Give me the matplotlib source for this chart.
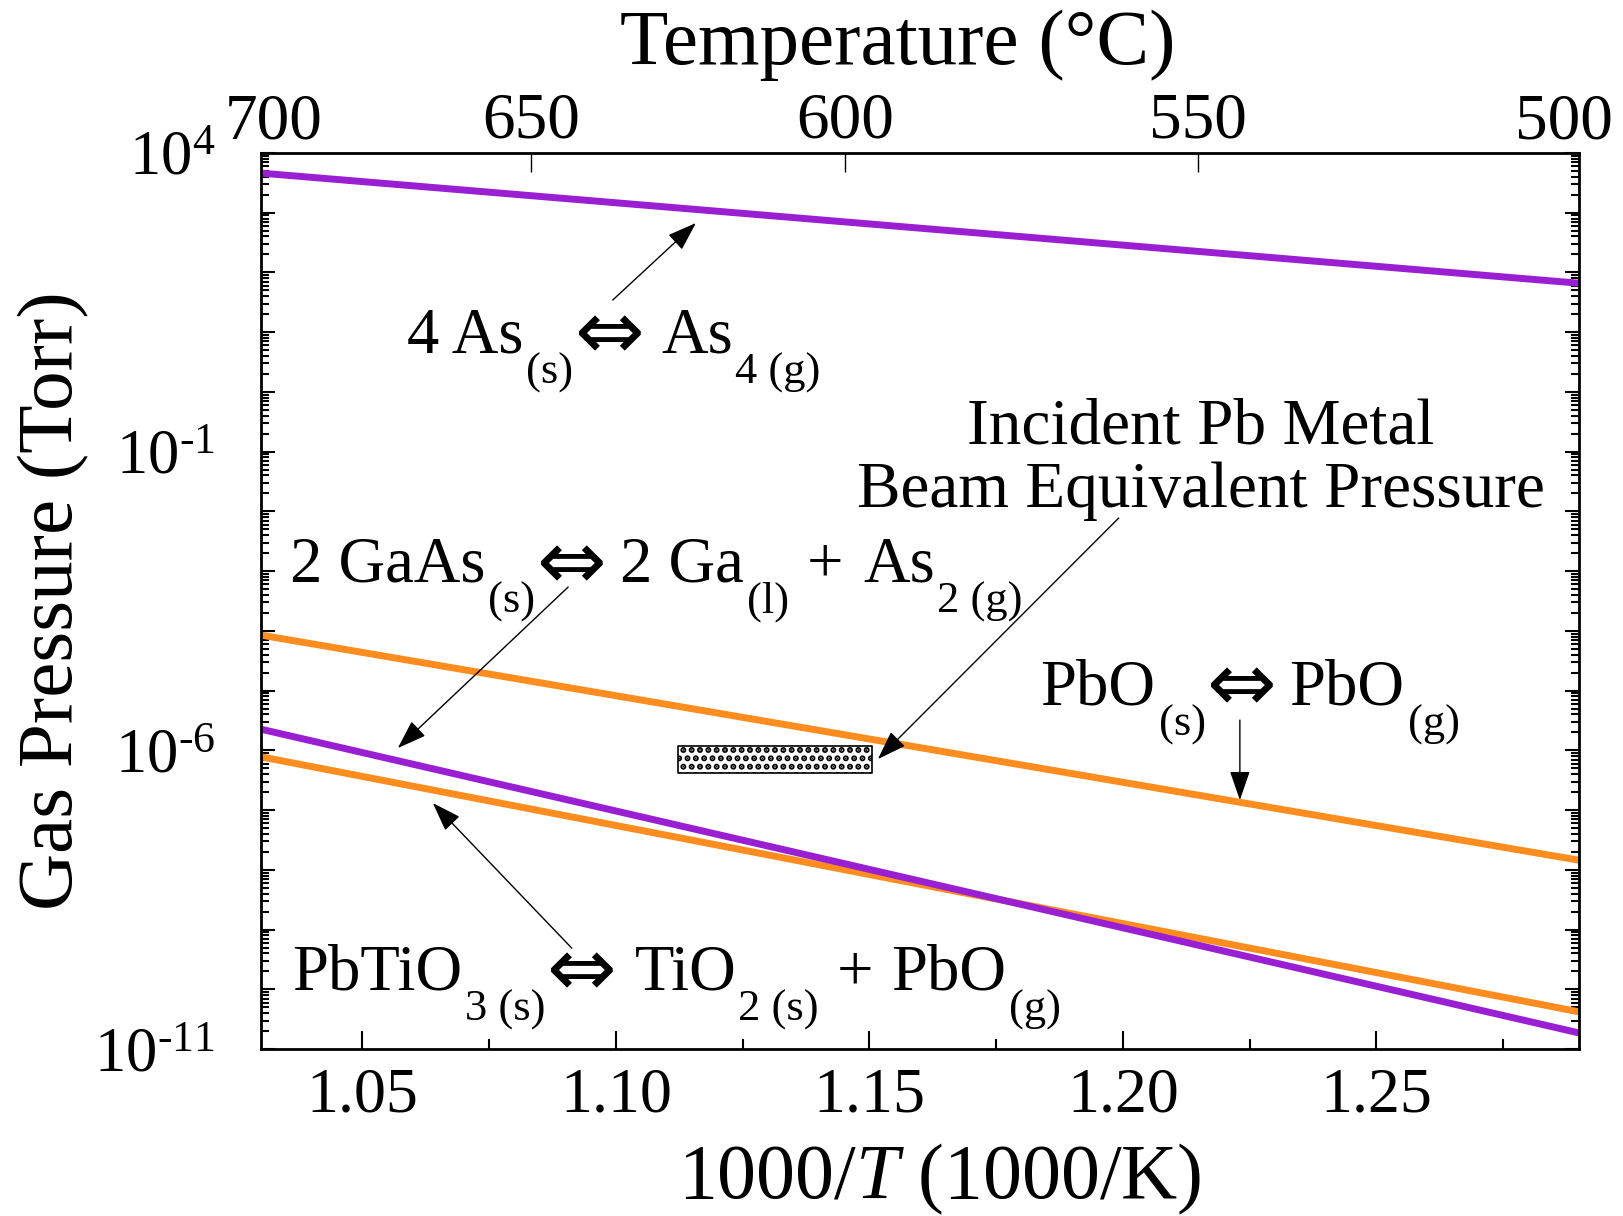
import numpy as np
import matplotlib
matplotlib.use('Agg')
import matplotlib.pyplot as plt
from matplotlib.ticker import LogLocator, FuncFormatter, MultipleLocator, NullFormatter, NullLocator
from matplotlib.transforms import offset_copy

plt.rcParams['font.family'] = ['Liberation Serif', 'DejaVu Serif']
plt.rcParams['mathtext.fontset'] = 'custom'
plt.rcParams['mathtext.rm'] = 'Liberation Serif'
plt.rcParams['mathtext.it'] = 'Liberation Serif:italic'
plt.rcParams['mathtext.fallback'] = 'stix'
plt.rcParams['hatch.linewidth'] = 3

# values (1000/T in 1000/K, pressure in Torr)
inv_T = [1.03, 1.29]
p_as4 = [4.6e3, 66]
p_pbo = [8.5e-5, 1.45e-8]
p_gaas = [2.26e-6, 1.86e-11]
p_pbtio3 = [7.8e-7, 4.2e-11]

# Pb beam equivalent pressure box
bep_x = [1.1122, 1.1505]
bep_p = [4.2e-7, 1.18e-6]

top_ticks = [650, 600, 550]
purple = '#9a1ed2'
orange = '#ff8c1e'

fig = plt.figure(figsize=(16.24, 12.16), dpi=100)
ax = fig.add_axes([0.1607, 0.1373, 0.8116, 0.7369])

ax.plot(inv_T, p_as4, color=purple, lw=5, solid_capstyle='butt')
ax.plot(inv_T, p_pbo, color=orange, lw=5, solid_capstyle='butt')
ax.plot(inv_T, p_pbtio3, color=orange, lw=5, solid_capstyle='butt')
ax.plot(inv_T, p_gaas, color=purple, lw=5, solid_capstyle='butt')

ax.fill_between(bep_x, bep_p[0], bep_p[1], facecolor='white', edgecolor='black',
                hatch='..', lw=1.2)

ax.set_yscale('log')
ax.set_xlim(1.03, 1.29)
ax.set_ylim(1e-11, 1e4)

ax.yaxis.set_major_locator(LogLocator(base=10, numticks=30))
ax.yaxis.set_minor_locator(LogLocator(base=10, subs=np.arange(2, 10), numticks=30))
ax.yaxis.set_minor_formatter(NullFormatter())

def ylab(v, pos):
    e = int(round(np.log10(v)))
    if (e - 4) % 5 == 0:
        return r'$10^{%s}$' % str(e).replace('-', '\u2010')
    return ''

ax.yaxis.set_major_formatter(FuncFormatter(ylab))
ax.xaxis.set_major_locator(MultipleLocator(0.05))
ax.xaxis.set_minor_locator(MultipleLocator(0.025))
ax.xaxis.set_major_formatter(FuncFormatter(lambda v, p: '%.2f' % v))

ax.tick_params(axis='y', which='both', direction='in', left=True, right=True, labelsize=45, pad=33)
ax.tick_params(axis='y', which='major', length=10, width=1.5)
ax.tick_params(axis='y', which='minor', length=5.5, width=1.5)
ax.tick_params(axis='x', which='both', direction='in', top=False, bottom=True, labelsize=46, pad=13)
ax.tick_params(axis='x', which='major', length=13, width=1.5)
ax.tick_params(axis='x', which='minor', length=7, width=1.5)
for s in ax.spines.values():
    s.set_linewidth(2)

ax.set_xlabel('1000/$T$ (1000/K)', fontsize=56)
ax.xaxis.set_label_coords(0.515, -0.103)
ax.set_ylabel('Gas Pressure (Torr)', fontsize=57)
ax.yaxis.set_label_coords(-0.130, 0.5)

# temperature axis on top
secax = ax.secondary_xaxis('top', functions=(lambda x: 1000.0 / x - 273.15,
                                               lambda t: 1000.0 / (t + 273.15)))
secax.set_xticks(top_ticks)
secax.set_xticklabels([str(t) for t in top_ticks])
secax.tick_params(axis='x', direction='in', length=14, width=1, labelsize=47, pad=1)
secax.xaxis.set_minor_locator(NullLocator())
ax.text(0.483, 1.08, 'Temperature (\u00b0C)', transform=ax.transAxes, fontsize=57,
        ha='center', va='bottom')
ax.text(0.01, 1.0167, '700', transform=ax.transAxes, fontsize=47, ha='center', va='baseline')
ax.text(0.9886, 1.0167, '500', transform=ax.transAxes, fontsize=47, ha='center', va='baseline')

# reaction labels, laid out piece by piece: n = normal, s = subscript, a = arrow, number = gap (px)
renderer = fig.canvas.get_renderer()

def chem(x, y, parts):
    dx = 0.0
    for p in parts:
        if isinstance(p, (int, float)):
            dx += p
            continue
        s, kind = p
        if kind == 's':
            kw = dict(fontsize=32)
            dy = -31
        elif kind == 'a':
            kw = dict(fontsize=60, family='DejaVu Sans')
            dy = -7
        else:
            kw = dict(fontsize=46.5)
            dy = 0
        tr = offset_copy(ax.transData, fig=fig, x=dx, y=dy, units='dots')
        t = ax.text(x, y, s, transform=tr, ha='left', va='baseline', **kw)
        dx += t.get_window_extent(renderer=renderer).width

arrow = ('\u21d4', 'a')
chem(1.0588, 10**0.668, [('4 As', 'n'), 3, ('(s)', 's'), 1, arrow, 17, ('As', 'n'), 2, ('4 (g)', 's')])
chem(1.0357, 10**-3.18, [('2 GaAs', 'n'), 3, ('(s)', 's'), 1, arrow, 14, ('2 Ga', 'n'), 3, ('(l)', 's'),
                         18, ('+', 'n'), 20, ('As', 'n'), 2, ('2 (g)', 's')])
chem(1.1838, 10**-5.225, [('PbO', 'n'), 3, ('(s)', 's'), 1, arrow, 13, ('PbO', 'n'), 3, ('(g)', 's')])
chem(1.0361, 10**-9.996, [('PbTiO', 'n'), 3, ('3 (s)', 's'), 1, arrow, 18, ('TiO', 'n'), 2, ('2 (s)', 's'),
                          18, ('+', 'n'), 18, ('PbO', 'n'), 3, ('(g)', 's')])

ax.text(1.2154, 10**-0.855, 'Incident Pb Metal', fontsize=47, ha='center', va='baseline')
ax.text(1.2154, 10**-1.927, 'Beam Equivalent Pressure', fontsize=47, ha='center', va='baseline')

# arrows (tail -> head)
arrows = [
    ((1.0994, 10**1.539), (1.1158, 10**2.828)),
    ((1.0906, 10**-3.266), (1.0570, 10**-5.962)),
    ((1.1992, 10**-2.111), (1.1517, 10**-6.146)),
    ((1.2231, 10**-5.493), (1.2231, 10**-6.832)),
    ((1.0913, 10**-9.31), (1.0639, 10**-6.882)),
]
for tail, head in arrows:
    ax.annotate('', xy=head, xytext=tail,
                arrowprops=dict(arrowstyle='-|>,head_length=1.3,head_width=0.45',
                                color='black', lw=1, shrinkA=0, shrinkB=0,
                                mutation_scale=14))

fig.savefig('out.png', dpi=100)
